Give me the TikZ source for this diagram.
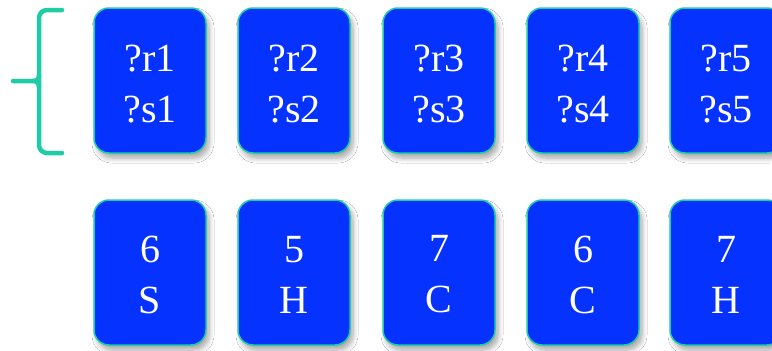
\documentclass[tikz,border=0pt]{standalone}
\usepackage{fontspec}
\setmainfont{Liberation Serif}
\usetikzlibrary{shadows.blur}
\definecolor{cardblue}{RGB}{5,50,255}
\definecolor{teal}{RGB}{30,205,165}
\tikzset{
  card/.style={draw=teal, line width=1.5pt, fill=cardblue, rounded corners=15pt,
    minimum width=112pt, minimum height=145pt,
    blur shadow={shadow xshift=3pt, shadow yshift=-5pt, shadow blur steps=8, shadow blur radius=5pt, shadow opacity=35}},
  cardtext/.style={text=white, align=center, font=\fontsize{40}{51}\selectfont},
  bracestyle/.style={draw=teal, line width=4.5pt, line cap=round, line join=round}
}
\begin{document}
\begin{tikzpicture}[x=1pt,y=-1pt]
\useasboundingbox (0,0) rectangle (772,351);
\clip (0,0) rectangle (772,351);
\fill[white] (0,0) rectangle (772,351);
% brace
\coordinate (bt) at (62,10);
\coordinate (bb) at (62,153);
\coordinate (tip) at (13,81);
\draw[bracestyle, rounded corners=8pt] (bt) -- (39,10) -- (39,153) -- (bb);
\draw[bracestyle] (tip) -- (33,81) .. controls (37,81) and (39,79) .. (39,75);
\draw[bracestyle] (33,81) .. controls (37,81) and (39,83) .. (39,87);
% top row
\foreach \x/\i in {150/1,294/2,439/3,583/4,726/5}{
  \node[card] (r\i) at (\x,80.5) {};
  \node[cardtext, yshift=-4pt] (rt\i) at (r\i) {?r\i\\?s\i};
}
% bottom row
\foreach \x/\i/\v/\s in {150/1/6/S,294/2/5/H,439/3/7/C,583/4/6/C,726/5/7/H}{
  \node[card] (c\i) at (\x,272.5) {};
  \node[cardtext, yshift=-2pt] (ct\i) at (c\i) {\v\\\s};
}
\end{tikzpicture}
\end{document}
